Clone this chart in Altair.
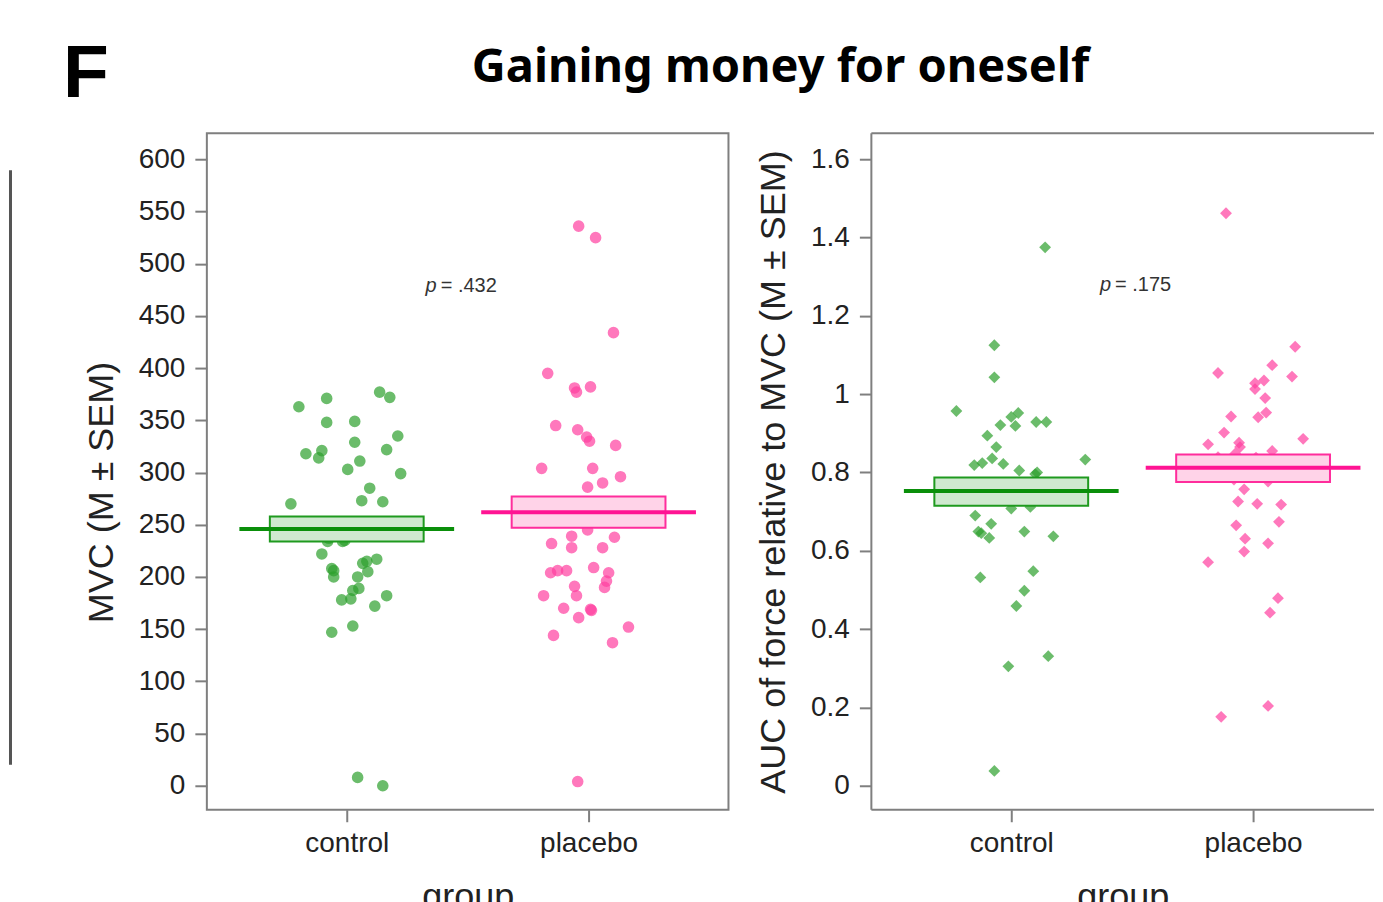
import altair as alt
import pandas as pd

groups = ["control", "placebo"]

# ---- Left panel: MVC values and horizontal jitter (in group units) ----
mvc_control = [363, 371, 377, 372, 348, 349, 335, 329, 322, 318, 321, 314, 311, 303, 299,
               285, 273, 272, 270, 242, 247, 237, 234, 241, 234, 235, 222, 208, 206, 200,
               213, 215, 217, 205, 200, 189, 187, 179, 178, 182, 172, 153, 147, 8, 0]
mvc_control_jit = [-0.198, -0.083, 0.136, 0.178, -0.083, 0.033, 0.211, 0.033, 0.165, -0.169,
                   -0.103, -0.116, 0.054, 0.004, 0.223, 0.095, 0.062, 0.149, -0.231, -0.140,
                   0.004, -0.074, -0.017, 0.194, -0.079, -0.008, -0.103, -0.062, -0.054, -0.054,
                   0.066, 0.083, 0.124, 0.087, 0.045, 0.050, 0.025, 0.017, -0.021, 0.165,
                   0.116, 0.025, -0.062, 0.045, 0.149]
mvc_placebo = [536, 525, 434, 395, 381, 377, 382, 345, 341, 334, 330, 326, 304, 304, 296,
               290, 286, 270, 265, 252, 245, 239, 238, 232, 228, 228, 204, 206, 206, 209,
               204, 196, 190, 191, 182, 182, 170, 168, 169, 161, 152, 144, 137, 4]
mvc_placebo_jit = [-0.041, 0.029, 0.103, -0.169, -0.058, -0.050, 0.008, -0.136, -0.045, -0.008,
                   0.004, 0.112, -0.194, 0.017, 0.132, 0.058, -0.004, -0.037, 0.021, -0.029,
                   -0.004, -0.070, 0.107, -0.153, -0.070, 0.058, -0.157, -0.128, -0.091, 0.021,
                   0.083, 0.074, 0.066, -0.058, -0.050, -0.186, -0.103, 0.012, 0.008, -0.041,
                   0.165, -0.145, 0.099, -0.045]
mvc_mean = [246, 262]
mvc_lo = [234, 247]
mvc_hi = [258, 277]

# ---- Right panel: AUC values and jitter ----
auc_control = [1.375, 1.125, 1.043, 0.957, 0.921, 0.942, 0.952, 0.919, 0.929, 0.929,
               0.894, 0.865, 0.836, 0.819, 0.824, 0.822, 0.805, 0.796, 0.833, 0.773,
               0.739, 0.739, 0.740, 0.740, 0.708, 0.712, 0.690, 0.669, 0.649, 0.633,
               0.649, 0.637, 0.532, 0.548, 0.498, 0.459, 0.331, 0.305, 0.038, 0.800, 0.645]
auc_control_jit = [0.140, -0.070, -0.070, -0.227, -0.045, 0.000, 0.029, 0.017, 0.103, 0.145,
                   -0.099, -0.062, -0.079, -0.153, -0.120, -0.033, 0.033, 0.099, 0.306, -0.099,
                   -0.198, -0.070, 0.008, 0.120, 0.000, 0.079, -0.149, -0.083, -0.136, -0.091,
                   0.054, 0.174, -0.128, 0.091, 0.054, 0.021, 0.153, -0.012, -0.070, 0.107, -0.124]
auc_placebo = [1.462, 1.121, 1.074, 1.054, 1.045, 1.028, 1.035, 1.013, 0.990, 0.943,
               0.941, 0.953, 0.902, 0.872, 0.876, 0.865, 0.886, 0.839, 0.848, 0.838,
               0.855, 0.828, 0.820, 0.798, 0.792, 0.782, 0.777, 0.757, 0.726, 0.720,
               0.718, 0.674, 0.665, 0.631, 0.619, 0.598, 0.571, 0.479, 0.442, 0.204, 0.176]
auc_placebo_jit = [-0.112, 0.174, 0.079, -0.145, 0.161, 0.008, 0.045, 0.008, 0.050, -0.091,
                   0.021, 0.054, -0.120, -0.186, -0.058, -0.054, 0.207, -0.145, -0.074, 0.012,
                   0.079, 0.070, -0.058, -0.029, 0.095, -0.079, 0.062, -0.037, -0.062, 0.017,
                   0.116, 0.107, -0.070, -0.033, 0.062, -0.037, -0.186, 0.103, 0.070, 0.062, -0.132]
auc_mean = [0.753, 0.812]
auc_lo = [0.715, 0.776]
auc_hi = [0.787, 0.846]

p_labels = ["= .432", "= .175"]

# ---- styles ----
PT_COLORS = ["#2ca02c", "#ff3fa0"]
LINE_COLORS = ["#0a8f0a", "#ff1493"]
BOX_FILLS = ["#cfe9cf", "#ffd3e8"]
BOX_STROKES = ["#1f9a1f", "#ff2d9c"]
FONT = "Liberation Sans"
GRAY = "#7f7f7f"
W, H = 522, 677
W_RIGHT = 503
XDOM_LEFT = [0.4215, 2.5785]
XDOM_RIGHT = [0.4215, 0.4215 + 503 / 242]


def points_df(vals_c, jit_c, vals_p, jit_p):
    rows = []
    for gi, (vals, jits) in enumerate([(vals_c, jit_c), (vals_p, jit_p)]):
        for v, j in zip(vals, jits):
            rows.append({"group": groups[gi], "gx": gi + 1, "jit": j, "value": v})
    return pd.DataFrame(rows)


def stats_df(mean, lo, hi):
    return pd.DataFrame({"group": groups, "gx": [1, 2], "mean": mean, "lo": lo, "hi": hi})


def panel(pts, st, xdom, width, ydom, yvals, ytitle, shape, size, fmt, p_pos, p_text,
          title_y=None, extra=None, view=None):
    xs = alt.Scale(domain=xdom, nice=False, zero=False)
    ys = alt.Scale(domain=ydom, nice=False, zero=False)
    xaxis = alt.Axis(values=[1, 2], labelExpr="datum.value == 1 ? 'control' : 'placebo'",
                     title="group", grid=False, domain=False, tickSize=12, labelPadding=8,
                     titlePadding=22)
    yargs = dict(values=yvals, title=ytitle, grid=False, domain=False, tickSize=12,
                 labelPadding=10, titlePadding=18, format=fmt)
    if title_y is not None:
        yargs["titleY"] = title_y
    yaxis = alt.Axis(**yargs)

    pts_chart = alt.Chart(pts).transform_calculate(
        xpos="datum.gx + datum.jit"
    ).mark_point(filled=True, shape=shape, size=size, opacity=0.7, strokeWidth=0).encode(
        x=alt.X("xpos:Q", scale=xs, axis=xaxis),
        y=alt.Y("value:Q", scale=ys, axis=yaxis),
        color=alt.Color("group:N", scale=alt.Scale(domain=groups, range=PT_COLORS), legend=None),
    )
    box = alt.Chart(st).transform_calculate(
        bx1="datum.gx - 0.318", bx2="datum.gx + 0.318"
    ).mark_rect(strokeWidth=2).encode(
        x="bx1:Q", x2="bx2:Q", y="lo:Q", y2="hi:Q",
        fill=alt.Fill("group:N", scale=alt.Scale(domain=groups, range=BOX_FILLS), legend=None),
        stroke=alt.Stroke("group:N", scale=alt.Scale(domain=groups, range=BOX_STROKES), legend=None),
    )
    line = alt.Chart(st).transform_calculate(
        lx1="datum.gx - 0.444", lx2="datum.gx + 0.444"
    ).mark_rule(strokeWidth=4).encode(
        x="lx1:Q", x2="lx2:Q", y="mean:Q",
        color=alt.Color("group:N", scale=alt.Scale(domain=groups, range=LINE_COLORS), legend=None),
    )
    tdf = pd.DataFrame({"x": [p_pos[0]], "y": [p_pos[1]], "t": [p_text]})
    p_it = alt.Chart(tdf).mark_text(text="p", font=FONT, fontStyle="italic", fontSize=20,
                                    align="right", baseline="middle", color="#333333", dx=-1).encode(
        x="x:Q", y="y:Q")
    p_rest = alt.Chart(tdf).mark_text(font=FONT, fontSize=20, align="left", baseline="middle",
                                      color="#333333", dx=3).encode(x="x:Q", y="y:Q", text="t:N")
    layers = [pts_chart, box, line, p_it, p_rest]
    if extra is not None:
        layers.extend(extra)
    props = dict(width=width, height=H)
    if view is not None:
        props["view"] = view
    return alt.layer(*layers).resolve_scale(
        color="independent", fill="independent", stroke="independent"
    ).properties(**props)


one = pd.DataFrame({"a": [0]})
# cut-off neighbouring panel border at far left
edge = alt.Chart(one).mark_rule(color="#555555", strokeWidth=3).encode(
    x=alt.value(-196.5), y=alt.value(37), y2=alt.value(632))

# right panel frame: its right side lies beyond the picture's edge
fr_top = alt.Chart(one).mark_rule(color=GRAY, strokeWidth=2).encode(
    x=alt.value(0), x2=alt.value(W_RIGHT), y=alt.value(0))
fr_bot = alt.Chart(one).mark_rule(color=GRAY, strokeWidth=2).encode(
    x=alt.value(0), x2=alt.value(W_RIGHT), y=alt.value(H))
fr_left = alt.Chart(one).mark_rule(color=GRAY, strokeWidth=2).encode(
    x=alt.value(0), y=alt.value(0), y2=alt.value(H))

left = panel(points_df(mvc_control, mvc_control_jit, mvc_placebo, mvc_placebo_jit),
             stats_df(mvc_mean, mvc_lo, mvc_hi), XDOM_LEFT, W,
             [-23, 625], list(range(0, 601, 50)), "MVC (M \u00b1 SEM)", "circle", 135, "d",
             (1.376, 479), p_labels[0], title_y=359, extra=[edge])
right = panel(points_df(auc_control, auc_control_jit, auc_placebo, auc_placebo_jit),
              stats_df(auc_mean, auc_lo, auc_hi), XDOM_RIGHT, W_RIGHT,
              [-0.0612, 1.6663], [0, 0.2, 0.4, 0.6, 0.8, 1.0, 1.2, 1.4, 1.6],
              "AUC of force relative to MVC (M \u00b1 SEM)", "diamond", 140, "~g",
              (1.417, 1.278), p_labels[1], extra=[fr_top, fr_bot, fr_left],
              view=alt.ViewBackground(strokeOpacity=0))

f_txt = alt.Chart(one).mark_text(text="F", font=FONT, fontWeight="bold", fontSize=75,
                                 align="left", baseline="alphabetic", color="black").encode(
    x=alt.value(-144), y=alt.value(89))
t_txt = alt.Chart(one).mark_text(text="Gaining money for oneself", font="Noto Sans",
                                 fontWeight="bold", fontSize=47, align="center",
                                 baseline="alphabetic", color="black").encode(
    x=alt.value(574), y=alt.value(74))
header = alt.layer(f_txt, t_txt).properties(width=900, height=110,
                                            view=alt.ViewBackground(strokeOpacity=0))

body = alt.hconcat(left, right, spacing=26)
chart = alt.vconcat(header, body, spacing=14).properties(
    padding={"left": 0, "top": 0, "right": 0, "bottom": 0}, background="white"
).configure_view(stroke=GRAY, strokeWidth=2).configure_axis(
    labelFont=FONT, labelFontSize=28, labelColor="#222222",
    titleFont=FONT, titleFontSize=36, titleFontWeight="normal", titleColor="#222222",
    tickColor=GRAY, tickWidth=2
)

chart.save("out.html", embed_options={"renderer": "svg", "actions": False})
